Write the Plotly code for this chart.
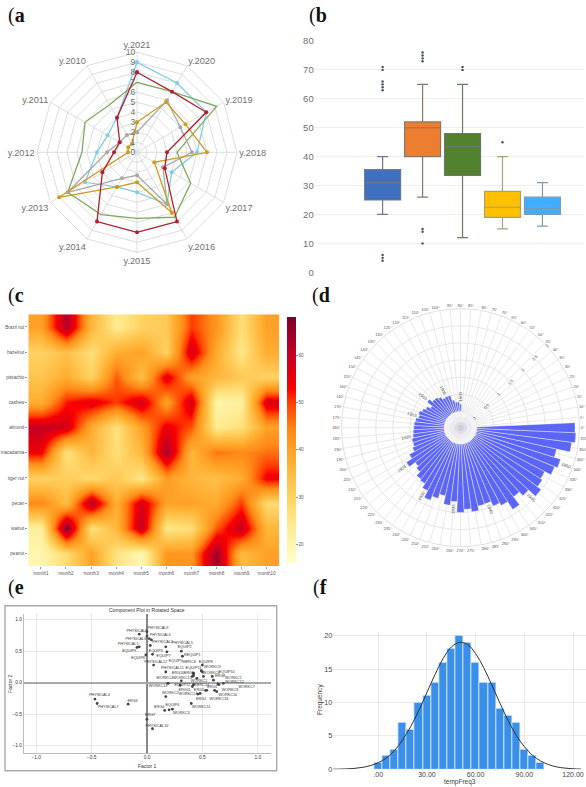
import math
import plotly.graph_objects as go

W, H = 586, 787
def dx(a, b): return [a / W, b / W]
def dy(a, b): return [1 - b / H, 1 - a / H]

GREY = "#707070"
SANS = "Liberation Sans"

# (a) radar
years = ["y.2021","y.2020","y.2019","y.2018","y.2017","y.2016","y.2015","y.2014","y.2013","y.2012","y.2011","y.2010"]
radar_sky = [9,8,8,6,4,6,4,4,6,4,3.4,4]
radar_green = [7,7,9.2,4,6.2,7.5,6.6,7.2,8,5.5,6,5.5]
radar_gray = [2,6,5,5.5,3,6,2.3,3,8,3,2,2]
radar_yellow = [3,5.8,5.6,7,2,7,3,4,9,0.9,1,1]
radar_red = [8,7,8,3,3.2,8,8,8,4,2.3,2,4]
radar_colors = ["#84cbe6","#7cab5e","#a8a8a8","#cd9b20","#b2202c"]
radar_sizes = [4, 0.1, 4, 4, 4]

# (b) boxes
box_names = ["A","B","C","D","E"]
box_q1 = [25,40,33.5,19,20]
box_med = [31,50,43.5,22.5,22]
box_q3 = [35.5,52,48,28,26]
box_lo = [20,26,12,15,16]
box_hi = [40,65,65,40,31]
box_out = [[71,70,66,65,64,63,6,5,4],[76,75,74,73,15,14,10],[71,70],[45],[]]
box_fill = ["#3f70c0","#ed7d31","#52822f","#ffc000","#40aeff"]
box_line = ["#6a7a92","#857868","#6a7a62","#a8a078","#7a9ab0"]

# (c) heatmap
months = ["month1","month2","month3","month4","month5","month6","month7","month8","month9","month10"]
nuts = ["Brazil nut","hazelnut","pistachio","cashew","almond","macadamia","tiger nut","pecan","walnut","peanut"]
heat_brazil = [40,62,36,24,30,32,50,42,27,40]
heat_hazel = [30,34,27,38,40,30,58,38,25,38]
heat_pist = [33,38,30,48,34,56,40,36,32,30]
heat_cashew = [38,52,56,50,58,40,58,20,22,57]
heat_almond = [60,58,38,26,40,55,48,24,27,40]
heat_maca = [54,26,36,27,36,63,36,46,44,46]
heat_tiger = [30,31,28,32,25,41,36,34,38,54]
heat_pecan = [44,35,62,37,58,40,40,38,50,28]
heat_walnut = [22,67,26,36,60,25,27,48,60,36]
heat_peanut = [20,28,40,26,19,42,42,64,35,40]

# (d) polar bars, year 1900 at 90 deg, running counter-clockwise
bar_years = list(range(1900, 1955))
bar_theta = [90 + 5 * i for i in range(55)]
bar_vals = [.21,.28,.28,.35,.51,.52,.50,.59,.64,.64,.75,.57,.67,.74,.81,.78,.85,.88,.89,.91,.93,.98,.98,1.04,
            1.21,1.40,1.19,1.27,1.42,1.46,1.60,1.82,1.69,1.56,1.81,1.69,2.00,1.91,2.00,1.87,1.86,2.00,2.09,
            2.36,2.07,2.22,2.49,2.36,2.30,2.50,2.59,2.40,2.80,2.90,2.87]

# (e) factor plot
fac_names = ["PHYSICAL9","PHYSICAL8","PHYSICAL3","PHYSICAL6","PHYSICAL2","PHYSICAL5","PHYSICAL1","EQUIP9","EQUIP3","EQUIP2","EQUIP7","REQUIP1","EQUIP6","PHYSICAL12","EQUIP5","WERC8","EQUIP8","WORKC9","PHYSICAL11","EQUIP11","EQUIP10","WORKC6","ERG10","ERG9","ERG8","WORKC5","WORKC4","WORKC15","WORKC1","WORKC12","WORKC7","EQUIP12","WORKC13","WERC14","ERG1","ERG11","ERG5","WORKC8","WORKC10","WORKC2","WORKC14","ERG2","WORKC16","PHYSICAL4","ERG3","PHYSICAL7","WORKC11","EQUIP4","ERG4","WORKC3","ERG7","PHYSICAL10"]
fac_x = [0,-.07,0,.02,.04,.17,-.07,-.09,.03,.31,.05,.32,-.01,.06,.18,.42,.50,.49,.17,.42,.60,.50,.41,.42,.59,.51,.19,.31,.45,.69,.65,.30,.19,.41,.53,.42,.54,.63,.61,.17,.48,.46,.64,-.47,-.17,-.45,.40,.23,.16,.20,0,.05]
fac_y = [.81,.77,.74,.70,.68,.57,.57,.56,.59,.50,.45,.42,.44,.28,.49,.15,.28,.19,.17,.11,.04,.17,.10,.14,.10,.10,-.01,.03,.07,-.01,-.03,-.04,-.01,-.06,-.12,-.03,-.12,-.14,-.12,-.22,-.17,-.18,-.02,-.26,-.34,-.33,-.33,-.42,-.44,-.43,-.58,-.73]
fac_lx = [.10,-.09,.12,-.10,.14,.32,-.17,-.16,.08,.34,.15,.41,-.08,.08,.26,.38,.53,.59,.23,.42,.72,.58,.28,.38,.66,.78,.16,.32,.47,.79,.90,.32,.10,.49,.59,.34,.47,.75,.73,.21,.37,.49,.65,-.43,-.13,-.35,.49,.23,.11,.31,.03,.09]
fac_ly = [.86,.82,.76,.70,.65,.63,.62,.51,.51,.56,.42,.44,.39,.33,.35,.33,.33,.25,.24,.24,.17,.16,.15,.15,.10,.08,.07,.07,.02,.01,-.07,-.03,-.06,-.04,-.07,-.11,-.11,-.12,-.20,-.17,-.18,-.26,-.26,-.20,-.29,-.39,-.39,-.36,-.39,-.48,-.52,-.68]

# (f) histogram and normal curve
hist_x = [0,5,10,15,20,25,30,35,40,45,50,55,60,65,70,75,80,85,90,95,100]
hist_y = [1,2,3,7,6,10,11,13,16,18,20,19,16,13,13,9,8,7,3,2,1]
curve_x = [-28,-20,-15,-10,-5,0,5,10,15,20,25,30,35,40,45,50,55,60,65,70,75,80,85,90,95,100,105,110,115,120,125]
curve_y = [.01,.06,.13,.28,.54,.99,1.7,2.8,4.4,6.4,8.8,11.5,14.2,16.6,18.3,19,18.7,17.3,15.2,12.6,9.9,7.3,5.1,3.4,2.1,1.25,.7,.36,.18,.08,.03]

fig = go.Figure()

# --- a
for vals, col, ms in zip([radar_sky, radar_green, radar_gray, radar_yellow, radar_red], radar_colors, radar_sizes):
    fig.add_trace(go.Scatterpolar(r=vals + vals[:1], theta=years + years[:1], mode="lines+markers",
                                  line=dict(color=col, width=1.3), marker=dict(color=col, size=ms),
                                  subplot="polar", showlegend=False))

# --- b
for i in range(5):
    fig.add_trace(go.Box(x=[i], q1=[box_q1[i]], median=[box_med[i]], q3=[box_q3[i]],
                         lowerfence=[box_lo[i]], upperfence=[box_hi[i]], width=0.9, whiskerwidth=0.3,
                         fillcolor=box_fill[i], line=dict(color=box_line[i], width=1.2),
                         boxpoints=False, xaxis="x", yaxis="y", showlegend=False))
    if box_out[i]:
        fig.add_trace(go.Scatter(x=[i] * len(box_out[i]), y=box_out[i], mode="markers",
                                 marker=dict(color="#445060", size=2.4), xaxis="x", yaxis="y", showlegend=False))

# --- c
heat_rows = [heat_brazil, heat_hazel, heat_pist, heat_cashew, heat_almond, heat_maca, heat_tiger, heat_pecan, heat_walnut, heat_peanut]
fig.add_trace(go.Heatmap(z=heat_rows, x=months, y=nuts, zsmooth="best", zmin=16, zmax=68,
                         colorscale=[[0,"#ffffc8"],[.173,"#ffe88a"],[.27,"#ffd262"],[.423,"#ffad30"],[.54,"#ff8a18"],
                                     [.654,"#ff3c00"],[.71,"#f80000"],[.846,"#c40024"],[1,"#7c0028"]],
                         xaxis="x2", yaxis="y2",
                         colorbar=dict(x=286.7 / W, xanchor="left", xpad=0, ypad=0, thickness=8.6, thicknessmode="pixels",
                                       y=1 - 563.3 / H, yanchor="bottom", len=246 / H, lenmode="fraction",
                                       outlinewidth=0, tickvals=[20,30,40,50,60], ticks="outside", ticklen=2,
                                       tickcolor="#999", tickfont=dict(size=4.6, color="#555566", family=SANS))))

# --- d
fig.add_trace(go.Barpolar(r=bar_vals, theta=bar_theta, width=[5] * len(bar_vals),
                          marker=dict(color="#5c66f6", line=dict(color="white", width=0.4)),
                          subplot="polar2", showlegend=False))

# --- e
fig.add_trace(go.Scatter(x=fac_x, y=fac_y, mode="markers", marker=dict(color="#444444", size=2.8),
                         xaxis="x3", yaxis="y3", showlegend=False))
fig.add_trace(go.Scatter(x=fac_lx, y=fac_ly, text=fac_names, mode="text", textposition="middle center",
                         textfont=dict(size=3.8, color="#333333", family=SANS), xaxis="x3", yaxis="y3", showlegend=False))

# --- f
fig.add_trace(go.Bar(x=hist_x, y=hist_y, width=[5] * len(hist_x),
                     marker=dict(color="#3a8fe9", line=dict(color="#dcecfb", width=0.8)),
                     xaxis="x4", yaxis="y4", showlegend=False))
fig.add_trace(go.Scatter(x=curve_x, y=curve_y, mode="lines", line=dict(color="#333333", width=1, shape="spline"),
                         xaxis="x4", yaxis="y4", showlegend=False))

annots = []
for label, x, y in [("a", 6, 15), ("b", 307, 15), ("c", 6, 295), ("d", 310, 295), ("e", 6, 587), ("f", 311, 587)]:
    annots.append(dict(text="(<b>%s</b>" % label, x=x / W, y=1 - y / H, xref="paper", yref="paper", xanchor="left",
                       yanchor="middle", showarrow=False, font=dict(family="Liberation Serif", size=20, color="#111111")))

# year labels on bars of (d)
CX, CY, RR = 460.5, 427.7, 119.0
HOLE = 0.137
for i in range(0, 55, 5):
    rad = RR * (HOLE + (1 - HOLE) * bar_vals[i] / 3.0) + 7
    th = math.radians(bar_theta[i])
    ang = -bar_theta[i] if math.cos(th) >= 0 else 180 - bar_theta[i]
    annots.append(dict(text=str(bar_years[i]), x=(CX + rad * math.cos(th)) / W, y=1 - (CY - rad * math.sin(th)) / H,
                       xref="paper", yref="paper", showarrow=False, textangle=ang, xanchor="center", yanchor="middle",
                       font=dict(size=4.4, color="#555555", family=SANS)))

for text, x, y, ang, size, col in [
    ("Component Plot in Rotated Space", 147, 609.5, 0, 5, "#333"),
    ("Factor 1", 147, 766, 0, 5, "#333"),
    ("Factor 2", 10, 684, -90, 5, "#333"),
    ("tempFreq3", 459.5, 781.7, 0, 6.5, "#444"),
    ("Frequency", 320, 700, -90, 6.5, "#444"),
]:
    annots.append(dict(text=text, x=x / W, y=1 - y / H, xref="paper", yref="paper", showarrow=False, textangle=ang,
                       xanchor="center", yanchor="middle", font=dict(size=size, color=col, family=SANS)))

shapes = [
    dict(type="rect", xref="paper", yref="paper", x0=5 / W, x1=276.7 / W, y0=1 - 770.7 / H, y1=1 - 605.7 / H,
         line=dict(color="#aaaaaa", width=1.4)),
]
for rad, col in [(16.3, "#f3f3f6"), (11, "#ebebf0"), (6, "#dcdce3"), (3, "#cfcfd8")]:
    shapes.append(dict(type="circle", xref="paper", yref="paper", layer="above",
                       x0=(CX - rad) / W, x1=(CX + rad) / W, y0=1 - (CY + rad) / H, y1=1 - (CY - rad) / H,
                       fillcolor=col, line=dict(width=0)))

fig.update_layout(
    width=W, height=H, autosize=False, margin=dict(l=0, r=0, t=0, b=0, autoexpand=False), paper_bgcolor="white", plot_bgcolor="white",
    showlegend=False, font=dict(family=SANS, color=GREY), bargap=0, annotations=annots, shapes=shapes,
    polar=dict(domain=dict(x=dx(37, 237), y=dy(52.3, 252.3)), gridshape="linear", bgcolor="white",
               angularaxis=dict(direction="clockwise", rotation=90, type="category", categoryarray=years,
                                gridcolor="#dddddd", linecolor="#dddddd", ticks="", tickfont=dict(size=9.2, color=GREY)),
               radialaxis=dict(range=[0, 10], dtick=1, angle=90, tickangle=90, side="counterclockwise",
                               gridcolor="#dddddd", showline=False, ticks="", tickfont=dict(size=8.5, color=GREY))),
    xaxis=dict(domain=dx(314.7, 584), anchor="y", range=[-1.7, 5.04], showgrid=False, zeroline=False,
               showticklabels=False, ticks=""),
    yaxis=dict(domain=dy(41, 272.3), anchor="x", range=[0, 80], dtick=10, gridcolor="#eeeeee", zeroline=False,
               tickfont=dict(size=9.5, color=GREY), ticks=""),
    xaxis2=dict(domain=dx(28.3, 279.3), anchor="y2", tickfont=dict(size=4.6, color="#555566"), ticks="outside", ticklen=2,
                tickcolor="#999", showgrid=False, zeroline=False),
    yaxis2=dict(domain=dy(314.3, 566), anchor="x2", autorange="reversed", tickfont=dict(size=4.6, color="#555566"),
                ticks="outside", ticklen=2, tickcolor="#999", showgrid=False, zeroline=False),
    polar2=dict(domain=dict(x=dx(341.5, 579.5), y=dy(308.7, 546.7)), hole=HOLE, bgcolor="white",
                angularaxis=dict(direction="counterclockwise", rotation=0, dtick=5, ticksuffix="°", gridcolor="#e9e9e9",
                                 linecolor="#e0e0e0", ticks="", layer="below traces", tickfont=dict(size=3.9, color="#555555")),
                radialaxis=dict(range=[0, 3], dtick=0.5, angle=45, tickangle=0, gridcolor="#e6e6e6", showline=False,
                                ticks="", layer="below traces", tickfont=dict(size=4.2, color="#555555"))),
    xaxis3=dict(domain=dx(24, 270.7), anchor="y3", range=[-1.11, 1.117], tickvals=[-1,-.5,0,.5,1], tickformat=".1f",
                tickfont=dict(size=4.8, color="#333"), gridcolor="#e8e8e8", zeroline=True, zerolinecolor="#888888",
                zerolinewidth=1.6, showline=True, linecolor="#bbbbbb", ticks=""),
    yaxis3=dict(domain=dy(614, 752.7), anchor="x3", range=[-1.11, 1.09], tickvals=[-1,-.5,0,.5,1], tickformat=".1f",
                tickfont=dict(size=4.8, color="#333"), gridcolor="#e8e8e8", zeroline=True, zerolinecolor="#aaaaaa",
                zerolinewidth=1.6, showline=True, linecolor="#bbbbbb", ticks=""),
    xaxis4=dict(domain=dx(333.3, 586), anchor="y4", range=[-27.7, 128], tickvals=[0,30,60,90,120],
                ticktext=[".00","30.00","60.00","90.00","120.00"], tickfont=dict(size=7, color="#444"),
                gridcolor="#eaeaea", zeroline=False, ticks=""),
    yaxis4=dict(domain=dy(631.7, 769.3), anchor="x4", range=[0, 20.6], dtick=5, tickfont=dict(size=7.2, color="#444"),
                gridcolor="#eaeaea", zeroline=False, ticks=""),
)

fig.write_html("out.html", config={"displayModeBar": False}, post_script="document.body.style.margin='0';")
